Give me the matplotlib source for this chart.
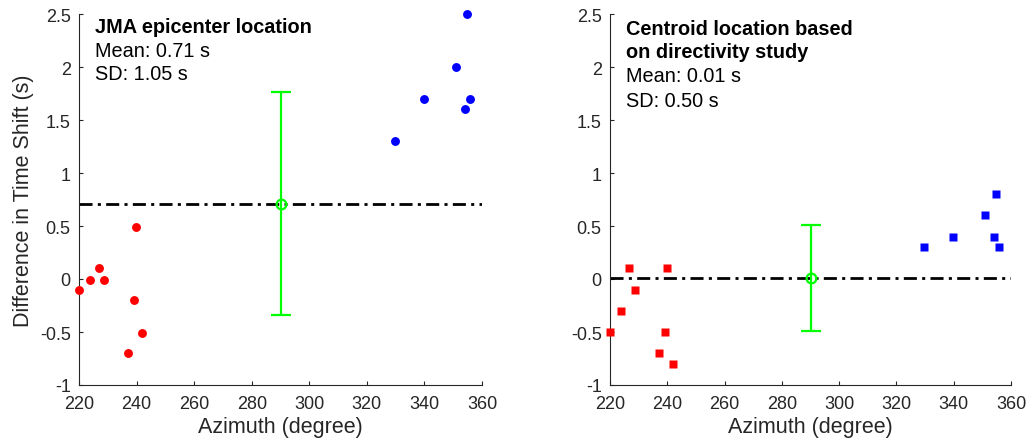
import matplotlib.pyplot as plt
import numpy as np
from matplotlib.ticker import FormatStrFormatter

plt.rcParams["font.family"] = ["Liberation Sans", "DejaVu Sans"]

# azimuths of stations (degree)
az_red = [220, 223.7, 226.8, 228.8, 237, 239.1, 239.9, 242]
az_blue = [329.8, 339.8, 350.9, 354.8, 354.0, 355.9]

# time-shift differences (s), JMA epicenter
jma_red = [-0.1, -0.01, 0.1, -0.01, -0.7, -0.2, 0.49, -0.51]
jma_blue = [1.3, 1.7, 2.0, 2.5, 1.6, 1.7]

# time-shift differences (s), centroid from directivity study
cen_red = [-0.5, -0.3, 0.1, -0.1, -0.7, -0.5, 0.1, -0.8]
cen_blue = [0.3, 0.4, 0.6, 0.8, 0.4, 0.3]

titles = [["JMA epicenter location"], ["Centroid location based", "on directivity study"]]
means = [0.71, 0.01]
sds = [1.05, 0.50]
err_x = 290

fig = plt.figure(figsize=(10.28, 4.39), dpi=100)
W, H = 1028, 439
ax1 = fig.add_axes([79 / W, 1 - 386 / H, 403 / W, 371 / H])
ax2 = fig.add_axes([610 / W, 1 - 386 / H, 401 / W, 371 / H])

dash = (0, (4.7, 1.9, 1.1, 1.9))
dark = "#262626"

panels = [
    (ax1, jma_red, jma_blue, "o", 6.4, [0.951], [0.886, 0.825]),
    (ax2, cen_red, cen_blue, "s", 5.4, [0.946, 0.883], [0.820, 0.753]),
]

for i, (ax, yr, yb, mk, ms, ty, sy) in enumerate(panels):
    ax.plot(az_red, yr, mk, color=(1, 0, 0), ms=ms, mec="none", clip_on=False, zorder=3)
    ax.plot(az_blue, yb, mk, color=(0, 0, 1), ms=ms, mec="none", clip_on=False, zorder=3)
    ax.plot([220, 360], [means[i], means[i]], color="black", lw=2, linestyle=dash, zorder=2)
    ax.errorbar([err_x], [means[i]], yerr=[sds[i]], fmt="o", color=(0, 1, 0),
                mfc="none", ms=7, mew=1.6, elinewidth=1.6, capsize=7, capthick=1.6, zorder=4)

    ax.set_xlim(220, 360)
    ax.set_ylim(-1, 2.5)
    ax.set_xticks(np.arange(220, 361, 20))
    ax.set_yticks(np.arange(-1, 2.51, 0.5))
    ax.yaxis.set_major_formatter(FormatStrFormatter("%g"))
    for s in ["top", "right"]:
        ax.spines[s].set_visible(False)
    for s in ["left", "bottom"]:
        ax.spines[s].set_color(dark)
        ax.spines[s].set_linewidth(0.8)
    ax.tick_params(direction="in", length=3, width=0.8, colors=dark, labelsize=13)
    ax.tick_params(axis="x", pad=7)
    ax.tick_params(axis="y", pad=6)
    ax.set_xlabel("Azimuth (degree)", fontsize=15.5, color=dark, labelpad=3)

    for t, y in zip(titles[i], ty):
        ax.text(0.04, y, t, transform=ax.transAxes, fontsize=14.3, fontweight="bold",
                va="baseline", ha="left", color="black")
    ax.text(0.04, sy[0], f"Mean: {means[i]:.2f} s", transform=ax.transAxes,
            fontsize=14.3, va="baseline", ha="left", color="black")
    ax.text(0.04, sy[1], f"SD: {sds[i]:.2f} s", transform=ax.transAxes,
            fontsize=14.3, va="baseline", ha="left", color="black")

ax1.set_ylabel("Difference in Time Shift (s)", fontsize=15.5, color=dark, labelpad=4)

fig.savefig("out.png", dpi=100)
